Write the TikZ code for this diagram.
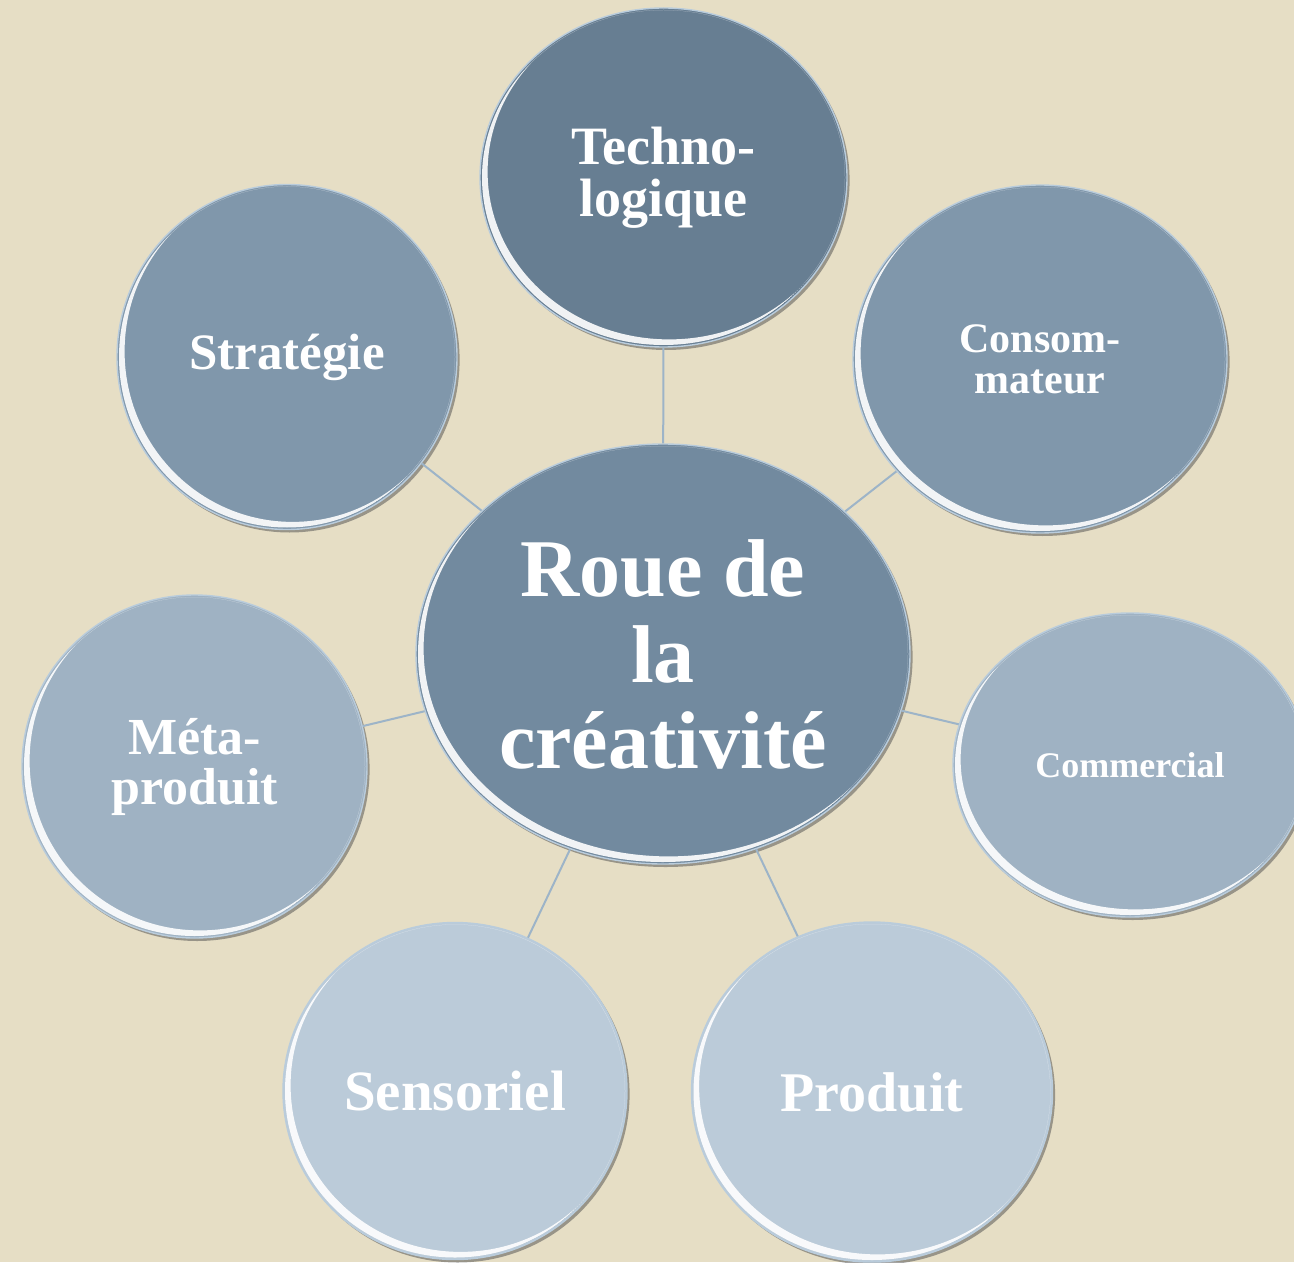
\documentclass[tikz,border=0pt]{standalone}
\usepackage{fontspec}
\setmainfont{Liberation Serif}
\usetikzlibrary{shapes.geometric,shadows,calc}
\definecolor{bg}{HTML}{E6DEC5}
\definecolor{cTech}{HTML}{677E92}
\definecolor{cCenter}{HTML}{728A9F}
\definecolor{cMid}{HTML}{8097AB}
\definecolor{cLight}{HTML}{9FB2C3}
\definecolor{cPale}{HTML}{BBCBD9}
\definecolor{cLine}{HTML}{9DB4C8}
\definecolor{cRim}{HTML}{B9CCDC}
\tikzset{
  bubble/.style={ellipse, draw=cRim, line width=0.7pt, text=white, align=center, inner sep=0pt,
    drop shadow={shadow xshift=1.3pt, shadow yshift=-1.5pt, opacity=0.5, fill=black!70},
    path picture={
      \begin{scope}
      \path[clip] let \p1=(path picture bounding box.north east),
            \p2=(path picture bounding box.south west),
            \n1={(\x1-\x2)/2-1pt}, \n2={(\y1-\y2)/2-1pt} in
        (path picture bounding box.center) ellipse [x radius=\n1, y radius=\n2];
      \fill[white, opacity=0.9, even odd rule]
        let \p1=(path picture bounding box.north east),
            \p2=(path picture bounding box.south west),
            \n1={(\x1-\x2)/2-1pt}, \n2={(\y1-\y2)/2-1pt} in
        (path picture bounding box.center) ellipse [x radius=\n1, y radius=\n2]
        ([shift={(2.8pt,2.8pt)}]path picture bounding box.center) ellipse [x radius=\n1, y radius=\n2];
      \end{scope}
    }},
  link/.style={draw=cLine, line width=1pt},
}
\begin{document}
\begin{tikzpicture}[x=0.5pt,y=-0.5pt]
\useasboundingbox (0,0) rectangle (1294,1262);
\clip (0,0) rectangle (1294,1262);
\fill[bg] (0,0) rectangle (1294,1262);

\node[bubble, fill=cCenter, minimum width=247pt, minimum height=210pt,
      font=\bfseries\fontsize{41}{43}\selectfont] (center) at (663,654) {Roue de\\la\\créativité};
\node[bubble, fill=cTech, minimum width=183.5pt, minimum height=169.5pt,
      font=\bfseries\fontsize{27}{26}\selectfont] (tech) at (663.5,177.5) {Techno-\\logique};
\node[bubble, fill=cMid, minimum width=187pt, minimum height=174pt,
      font=\bfseries\fontsize{21}{20.5}\selectfont] (cons) at (1040,359) {Consom-\\mateur};
\node[bubble, fill=cLight, minimum width=177pt, minimum height=152pt,
      font=\bfseries\fontsize{18}{20}\selectfont] (comm) at (1130,765) {Commercial};
\node[bubble, fill=cPale, minimum width=180.5pt, minimum height=170pt,
      font=\bfseries\fontsize{28}{30}\selectfont] (prod) at (872,1092) {Produit};
\node[bubble, fill=cPale, minimum width=172pt, minimum height=168.5pt,
      font=\bfseries\fontsize{28.5}{30}\selectfont] (sens) at (455,1091) {Sensoriel};
\node[bubble, fill=cLight, minimum width=172.5pt, minimum height=171.5pt,
      font=\bfseries\fontsize{26}{25}\selectfont] (meta) at (194.5,766.5) {Méta-\\produit};
\node[bubble, fill=cMid, minimum width=170pt, minimum height=172.5pt,
      font=\bfseries\fontsize{25.5}{27}\selectfont] (strat) at (287,357) {Stratégie};

\draw[link] (center) -- (tech);
\draw[link] (center) -- (cons);
\draw[link] (center) -- (comm);
\draw[link] (center) -- (prod);
\draw[link] (center) -- (sens);
\draw[link] (center) -- (meta);
\draw[link] (center) -- (strat);
\end{tikzpicture}
\end{document}
